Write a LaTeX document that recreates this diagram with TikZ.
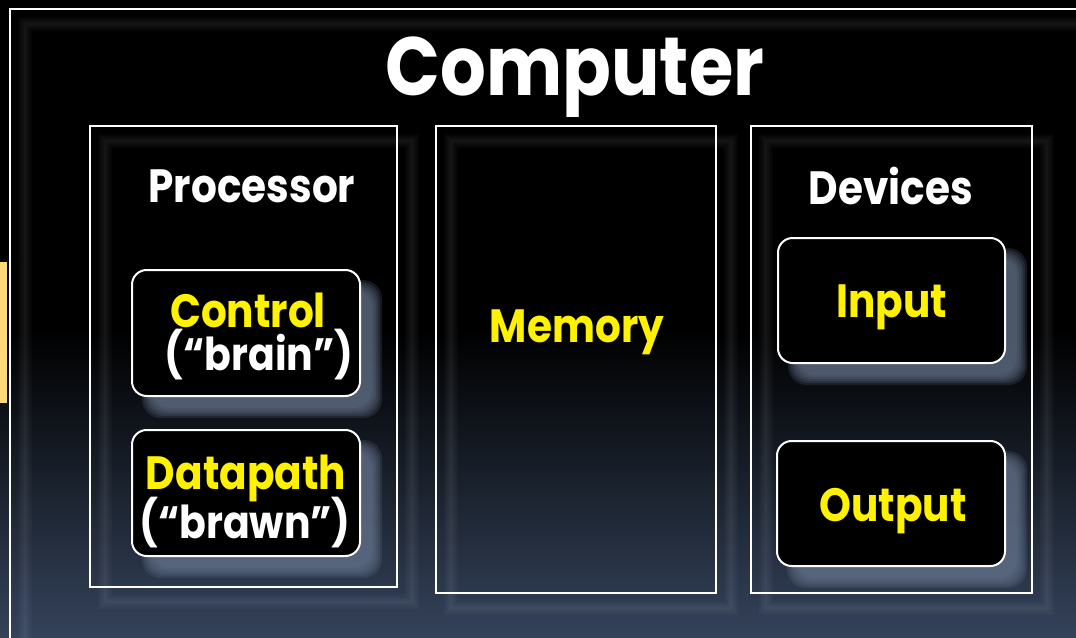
\documentclass[tikz,border=0pt]{standalone}
\usepackage{fontspec}
\setmainfont{Poppins}[FakeStretch=0.87]
\usepackage{tikz}
\usetikzlibrary{positioning}

\definecolor{shadowslate}{RGB}{105,120,145}
\definecolor{bgslate}{RGB}{52,66,90}
\definecolor{tabgold}{RGB}{255,216,122}

\begin{document}
\begin{tikzpicture}[x=0.75pt,y=0.75pt,yscale=-1,
  bigbox/.style={draw=white, line width=1.5},
  roundbox/.style={draw=white, line width=1.5, fill=black, rounded corners=11},
  title/.style={text=white, font=\bfseries\fontsize{62}{66}\selectfont},
  header/.style={text=white, font=\bfseries\fontsize{35}{38}\selectfont},
  unit/.style={text=yellow, font=\bfseries\fontsize{35}{38}\selectfont},
  note/.style={text=white, font=\bfseries\fontsize{34}{38}\selectfont}]
\useasboundingbox (0,0) rectangle (1076,637);
\clip (0,0) rectangle (1076,637);

%Background
\fill[black] (0,0) rectangle (1076,637);
\shade[top color=black, bottom color=bgslate] (0,330) rectangle (1076,637);

%Tab on the left edge
\fill[tabgold] (0,262) rectangle (7,403);

%Soft glow of the frames
\foreach \xa/\ya/\xb/\yb in {10/9/1100/660, 90/126/397/587, 436/126/716/593, 751/126/1032/593} {
  \foreach \w in {10,7,4,2}
    \draw[white, opacity=0.025, line width=\w] (\xa+15,\ya+15) rectangle (\xb+15,\yb+15);
}

%Frames
\draw[bigbox] (10,9) rectangle (1100,660);
\draw[bigbox] (90,126) rectangle (397,587);
\draw[bigbox] (436,126) rectangle (716,593);
\draw[bigbox] (751,126) rectangle (1032,593);

%Shadows of the rounded boxes
\foreach \xa/\ya/\xb/\yb in {132/270/360/396, 132/430/360/556, 778/238/1005/363, 777/441/1005/566} {
  \foreach \s in {0,...,5}
    \fill[shadowslate, opacity=0.2, rounded corners=14]
      (\xa+10+2*\s,\ya+10+2*\s) rectangle (\xb+22-2*\s,\yb+22-2*\s);
}

%Rounded boxes
\draw[roundbox] (132,270) rectangle (360,396);
\draw[roundbox] (132,430) rectangle (360,556);
\draw[roundbox] (778,238) rectangle (1005,363);
\draw[roundbox] (777,441) rectangle (1005,566);

% Text Node
\node[title] (computer) at (575,77) {Computer};
% Text Node
\node[header] (processor) at (252,186) {Processor};
% Text Node
\node[header] (devices) at (891,186) {Devices};
% Text Node
\node[unit] (memory) at (577,332) {Memory};
% Text Node
\node[unit] (control) at (248,310) {Control};
% Text Node
\node[note] (brain) at (259,355) {(“brain”)};
% Text Node
\node[unit] (datapath) at (246,478) {Datapath};
% Text Node
\node[note] (brawn) at (245,523) {(“brawn”)};
% Text Node
\node[unit] (input) at (892,307) {Input};
% Text Node
\node[unit] (output) at (893,511) {Output};

\end{tikzpicture}
\end{document}
